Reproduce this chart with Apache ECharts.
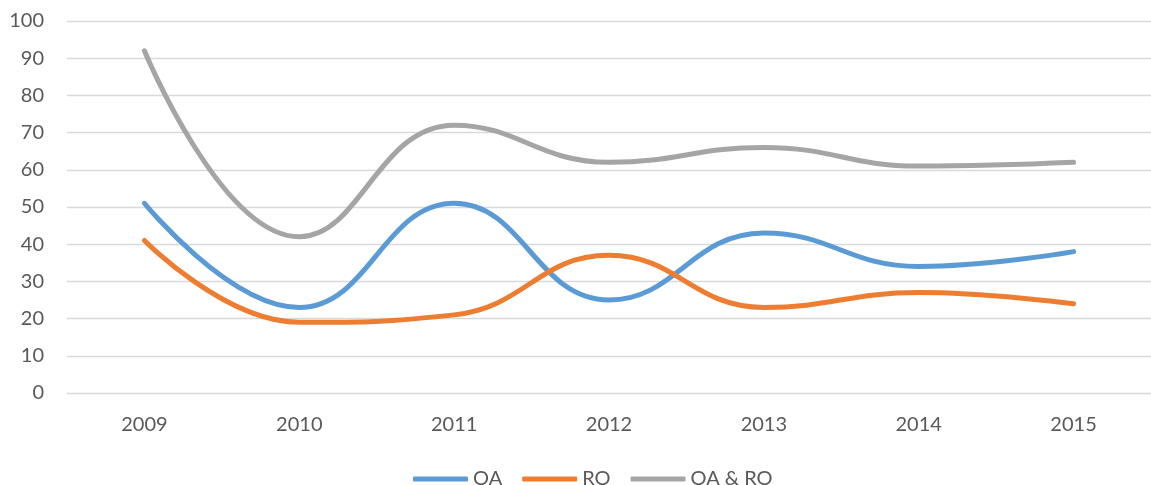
<!DOCTYPE html>
<html>
<head>
<meta charset="utf-8">
<script src="https://cdn.jsdelivr.net/npm/echarts@6/dist/echarts.min.js"></script>
<style>
  html, body { margin: 0; padding: 0; background: #fff; }
  #chart { width: 1151px; height: 485px; }
</style>
</head>
<body>
<div id="chart"></div>
<script>
// values
const years = ['2009', '2010', '2011', '2012', '2013', '2014', '2015']
const oa = [51, 23, 51, 25, 43, 34, 38]
const ro = [41, 19, 21, 37, 23, 27, 24]
const oaRo = [92, 42, 72, 62, 66, 61, 62]

const TEXT = '#595959'
const GRID_LINE = '#d9d9d9'
const FONT = 'Lato, "Open Sans", sans-serif'

function lineSeries(name, data, color) {
  return {
    name,
    type: 'line',
    data,
    smooth: 0.45,
    symbol: 'none',
    lineStyle: { width: 5, color, cap: 'round' },
    itemStyle: { color }
  }
}

const chart = echarts.init(document.getElementById('chart'))
chart.setOption({
  animation: false,
  textStyle: { fontFamily: FONT, color: TEXT },
  grid: { left: 67, right: -10, top: 21, bottom: 92 },
  legend: {
    bottom: -9,
    left: 408,
    icon: 'roundRect',
    itemWidth: 55,
    itemHeight: 5,
    itemGap: 20,
    textStyle: { color: TEXT, fontSize: 20, fontFamily: FONT }
  },
  xAxis: {
    type: 'category',
    data: years,
    boundaryGap: true,
    axisLine: { show: false },
    axisTick: { show: false },
    axisLabel: { color: TEXT, fontSize: 20, margin: 22 }
  },
  yAxis: {
    type: 'value',
    min: 0,
    max: 100,
    interval: 10,
    axisLine: { show: false },
    axisTick: { show: false },
    splitLine: { lineStyle: { color: GRID_LINE, width: 1.3 } },
    axisLabel: { color: TEXT, fontSize: 20, margin: 23 }
  },
  series: [
    lineSeries('OA', oa, '#5b9bd5'),
    lineSeries('RO', ro, '#ed7d31'),
    lineSeries('OA & RO', oaRo, '#a5a5a5')
  ]
})
</script>
</body>
</html>
